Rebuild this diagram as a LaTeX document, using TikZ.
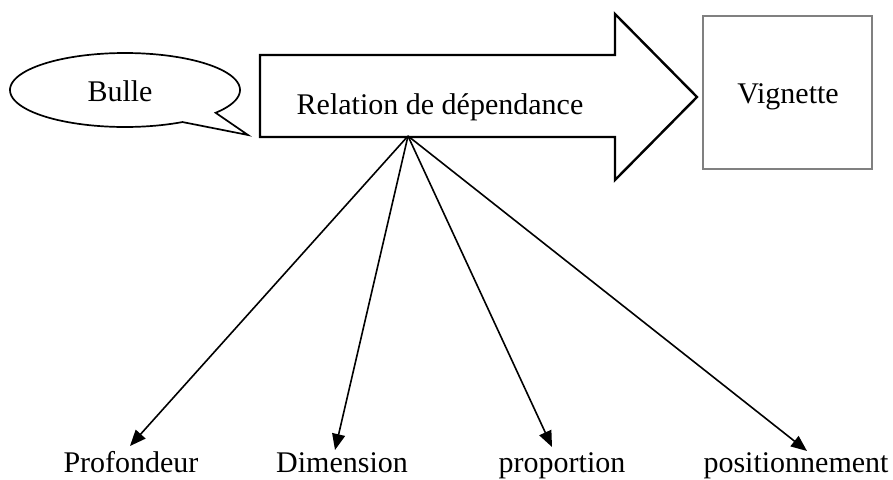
\documentclass[tikz,border=0pt]{standalone}
\usepackage{fontspec}
\setmainfont{Liberation Serif}
\usetikzlibrary{arrows.meta}
\begin{document}
\begin{tikzpicture}[x=1pt,y=-1pt,
  label/.style={font=\fontsize{30}{36}\selectfont, inner sep=0pt, anchor=base},
  outline/.style={draw=black, line width=2.4pt, line join=miter},
  link/.style={draw=black, line width=1.6pt, -{Triangle[length=16pt,width=13pt]}}]
  \useasboundingbox (0,0) rectangle (893,479);

  % speech bubble with its tail
  \draw[black, line width=1.7pt, line join=miter]
    plot[domain=38:-300, samples=120] ({125+115*cos(\x)},{90+37*sin(\x)})
    -- (248,135) -- cycle;
  \node[label] (bulle) at (120,101) {Bulle};

  % big block arrow
  \draw[outline] (260,55) -- (615,55) -- (615,14) -- (697,97)
    -- (615,180) -- (615,137) -- (260,137) -- cycle;
  \node[label] (relation) at (440,114) {Relation de dépendance};

  % frame
  \draw[gray, line width=1.3pt] (703,16) rectangle (872,169);
  \node[label] (vignette) at (788,103) {Vignette};

  % bottom labels
  \node[label] (profondeur) at (131,472) {Profondeur};
  \node[label] (dimension) at (342,472) {Dimension};
  \node[label] (proportion) at (562,472) {proportion};
  \node[label] (positionnement) at (796,472) {positionnement};

  % connectors
  \coordinate (src) at (408,136);
  \coordinate (tA) at (130,446);
  \coordinate (tB) at (335,450);
  \coordinate (tC) at (552,447);
  \coordinate (tD) at (807,451);
  \draw[link] (src) -- (tA);
  \draw[link] (src) -- (tB);
  \draw[link] (src) -- (tC);
  \draw[link] (src) -- (tD);
\end{tikzpicture}
\end{document}
